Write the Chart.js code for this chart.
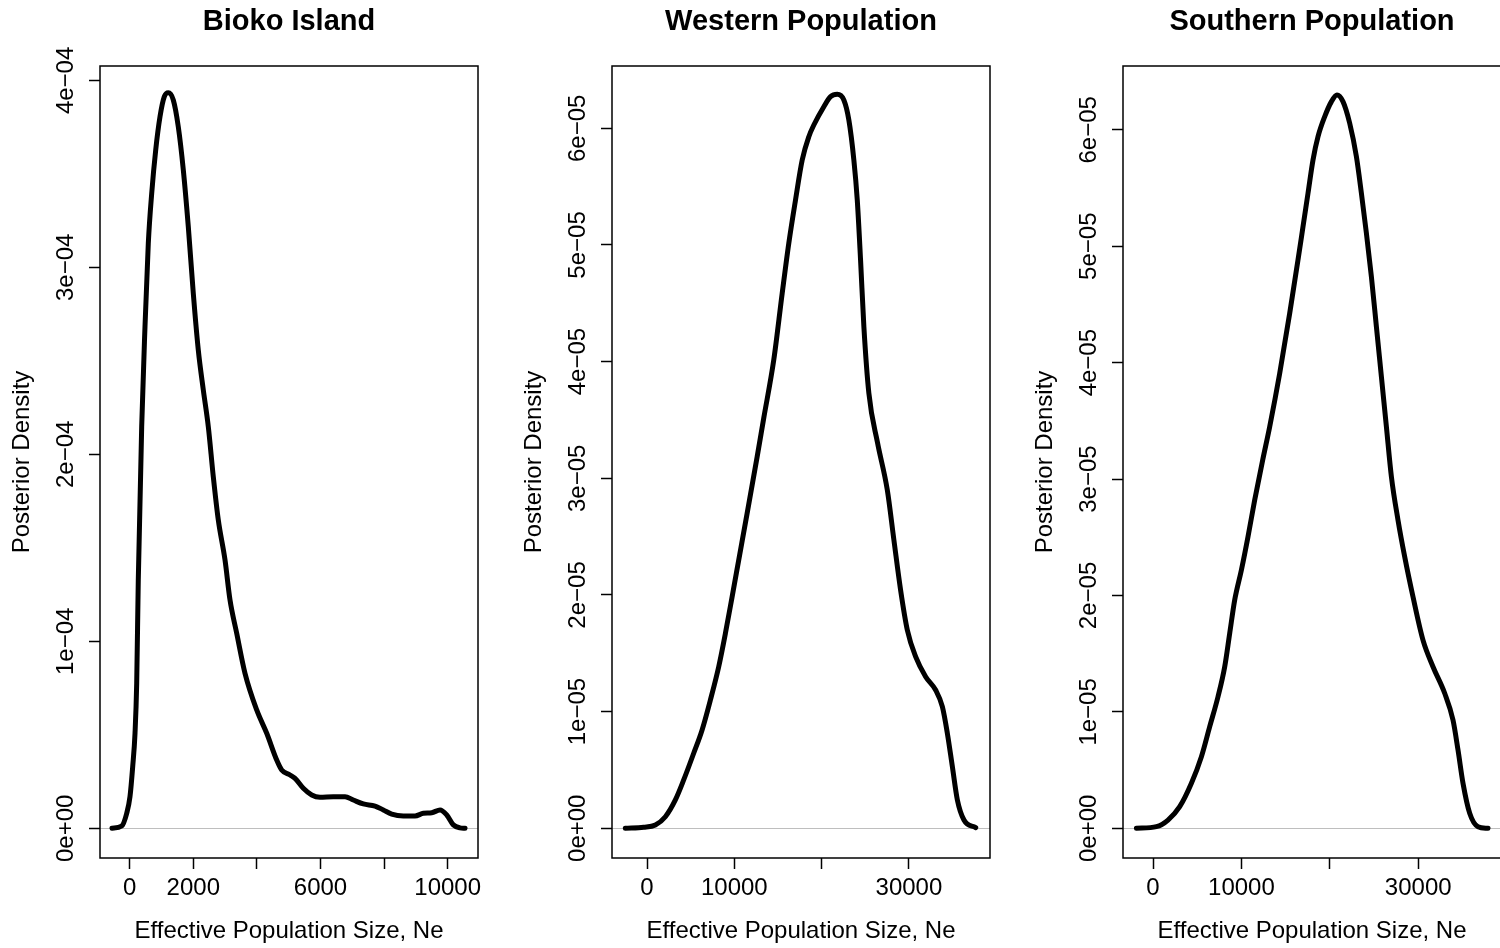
<!DOCTYPE html>
<html>
<head>
<meta charset="utf-8">
<title>Posterior density of effective population size</title>
<script src="https://cdn.jsdelivr.net/npm/chart.js@4.4.1/dist/chart.umd.min.js"></script>
<style>
	html, body { margin: 0; padding: 0; background: #fff; overflow: hidden; width: 1500px; height: 948px; }
	.panel { position: absolute; top: 0; width: 500px; height: 948px; }
	.panel canvas { display: block; }
</style>
</head>
<body>
<div class="panel" style="left:0px"><canvas id="ne-bioko" width="500" height="948"></canvas></div>
<div class="panel" style="left:512px"><canvas id="ne-western" width="500" height="948"></canvas></div>
<div class="panel" style="left:1023px"><canvas id="ne-southern" width="500" height="948"></canvas></div>
<script>
// Bioko Island
const biokoNe = [
	-557, -252, -94, 9, 94, 167, 220, 270, 377, 481, 585, 692, 818, 953, 1088,
	1214, 1371, 1528, 1686, 1843, 2000, 2157, 2315, 2472, 2629, 2786, 2997, 3154,
	3365, 3626, 3994, 4309, 4623, 4780, 5041, 5199, 5460, 5724, 5985, 6403, 6771,
	7032, 7347, 7715, 7976, 8240, 8605, 8973, 9234, 9498, 9759, 9970, 10178,
	10388, 10545,
];
const biokoDensity = [
	0, 1.2e-6, 8.0e-6, 1.69e-5, 3.29e-5, 5.08e-5, 7.75e-5, 1.328e-4, 2.148e-4,
	2.683e-4, 3.129e-4, 3.396e-4, 3.628e-4, 3.806e-4, 3.913e-4,
	3.934e-4, 3.895e-4, 3.752e-4, 3.521e-4, 3.217e-4, 2.861e-4, 2.558e-4,
	2.344e-4, 2.148e-4, 1.88e-4, 1.649e-4, 1.435e-4, 1.221e-4,
	1.043e-4, 8.29e-5, 6.33e-5, 5.08e-5, 3.65e-5, 3.12e-5, 2.85e-5, 2.67e-5,
	2.14e-5, 1.78e-5, 1.66e-5, 1.69e-5, 1.69e-5,
	1.51e-5, 1.3e-5, 1.19e-5, 9.8e-6, 7.6e-6, 6.6e-6, 6.6e-6, 8.0e-6, 8.3e-6,
	9.8e-6, 7.1e-6, 1.8e-6,
	2e-7, 0,
];
const biokoXLimits = [-934, 10953];
const biokoYLimits = [-1.59e-5, 4.077e-4];
const biokoXTicks = [0, 2000, 4000, 6000, 8000, 10000];
const biokoXTickLabels = ["0", "2000", "", "6000", "", "10000"];
const biokoYTicks = [0, 1e-4, 2e-4, 3e-4, 4e-4];
const biokoYTickLabels = ["0e+00", "1e\u221204", "2e\u221204", "3e\u221204", "4e\u221204"];

// Western Population
const westernNe = [
	-2489, -390, 952, 2099, 3245, 4197, 5344, 6307, 7259, 8211, 8979, 9748,
	10505, 11468, 12615, 13372, 14518, 15482, 16238, 17007, 17775, 18532, 19106,
	20253, 21021, 21789, 22546, 23120, 23693, 24083, 24461, 24840, 25413, 26411,
	27523, 28280, 29048, 29817, 30769, 31916, 33062, 33831, 34404, 34978, 35551,
	36308, 37650,
];
const westernDensity = [
	0, 8.6e-8, 2.8e-7, 9.9e-7, 2.43e-6, 4.14e-6, 6.43e-6, 8.43e-6, 1.1e-5,
	1.385e-5, 1.671e-5, 1.985e-5,
	2.3e-5, 2.7e-5, 3.185e-5, 3.517e-5, 4.014e-5, 4.585e-5, 5.014e-5, 5.385e-5,
	5.728e-5, 5.928e-5, 6.028e-5,
	6.185e-5, 6.271e-5, 6.291e-5, 6.242e-5, 6.071e-5, 5.728e-5, 5.385e-5,
	4.871e-5, 4.299e-5, 3.728e-5, 3.302e-5,
	2.9e-5, 2.471e-5, 2.042e-5, 1.7e-5, 1.471e-5, 1.299e-5, 1.185e-5, 1.042e-5,
	8.14e-6, 5.28e-6, 2.43e-6,
	7.1e-7, 5e-8,
];
const westernXLimits = [-4014, 39289];
const westernYLimits = [-2.55e-6, 6.534e-5];
const westernXTicks = [0, 10000, 20000, 30000];
const westernXTickLabels = ["0", "10000", "", "30000"];
const westernYTicks = [0, 1e-5, 2e-5, 3e-5, 4e-5, 5e-5, 6e-5];
const westernYTickLabels = ["0e+00", "1e\u221205", "2e\u221205", "3e\u221205", "4e\u221205", "5e\u221205", "6e\u221205"];

// Southern Population
const southernNe = [
	-1878, 385, 1697, 3020, 4344, 5475, 6414, 7353, 8111, 8676, 9242, 10000,
	10746, 11504, 12409, 13201, 14332, 15464, 16402, 16968, 17534, 18099, 18665,
	19423, 20181, 20814, 21493, 22251, 23009, 23574, 24140, 24705, 25271, 25837,
	26402, 26968, 27715, 28472, 29411, 30542, 31674, 32997, 33936, 34502, 35067,
	35825, 36764, 37895,
];
const southernDensity = [
	0, 1.4e-7, 7.1e-7, 1.86e-6, 3.87e-6, 6.15e-6, 8.73e-6, 1.13e-5, 1.388e-5,
	1.675e-5, 1.961e-5, 2.219e-5,
	2.505e-5, 2.82e-5, 3.164e-5, 3.45e-5, 3.908e-5, 4.424e-5, 4.882e-5, 5.168e-5,
	5.455e-5, 5.741e-5, 5.941e-5,
	6.113e-5, 6.242e-5, 6.299e-5, 6.242e-5, 6.056e-5, 5.769e-5, 5.455e-5,
	5.111e-5, 4.738e-5, 4.309e-5, 3.879e-5,
	3.45e-5, 3.02e-5, 2.648e-5, 2.333e-5, 1.989e-5, 1.617e-5, 1.388e-5, 1.16e-5,
	9.3e-6, 6.73e-6, 3.87e-6,
	1.29e-6, 1.4e-7, 0,
];
const southernXLimits = [-3394, 39366];
const southernYLimits = [-2.55e-6, 6.548e-5];
const southernXTicks = [0, 10000, 20000, 30000];
const southernXTickLabels = ["0", "10000", "", "30000"];
const southernYTicks = [0, 1e-5, 2e-5, 3e-5, 4e-5, 5e-5, 6e-5];
const southernYTickLabels = ["0e+00", "1e\u221205", "2e\u221205", "3e\u221205", "4e\u221205", "5e\u221205", "6e\u221205"];

Chart.defaults.font.family = "'Liberation Sans', Arial, Helvetica, sans-serif";
Chart.defaults.color = "#000";

// box round the plot region, like R's box()
const plotBox = {
	id: "plotBox",
	afterDraw(chart) {
		const { ctx, chartArea } = chart;
		ctx.save();
		ctx.strokeStyle = "#000";
		ctx.lineWidth = 1.5;
		ctx.strokeRect(
			chartArea.left,
			chartArea.top,
			chartArea.right - chartArea.left,
			chartArea.bottom - chartArea.top
		);
		ctx.restore();
	},
};

function buildChart(id, title, ne, density, xLimits, yLimits, xTicks, xLabels, yTicks, yLabels) {
	let ctx = document.getElementById(id).getContext("2d");

	return new Chart(ctx, {
		type: "line",
		data: {
			datasets: [
				{
					data: ne.map((x, i) => ({ x: x, y: density[i] })),
					borderColor: "#000",
					borderWidth: 5,
					borderCapStyle: "round",
					borderJoinStyle: "round",
					pointRadius: 0,
					fill: false,
					cubicInterpolationMode: "monotone",
				},
			],
		},
		options: {
			responsive: false,
			animation: false,
			devicePixelRatio: 1,
			events: [],
			layout: {
				padding: { left: 0, right: 22, top: 0, bottom: 0 },
			},
			scales: {
				x: {
					type: "linear",
					min: xLimits[0],
					max: xLimits[1],
					afterBuildTicks: (scale) => {
						scale.ticks = xTicks.map((v) => ({ value: v }));
					},
					afterFit: (scale) => {
						scale.height = 90;
					},
					border: { display: false },
					grid: {
						drawOnChartArea: false,
						drawTicks: true,
						tickLength: 11,
						tickWidth: 1.5,
						tickColor: "#000",
					},
					ticks: {
						autoSkip: false,
						minRotation: 0,
						maxRotation: 0,
						padding: 5,
						color: "#000",
						font: { size: 24 },
						callback: (value, idx) => xLabels[idx],
					},
					title: {
						display: true,
						text: "Effective Population Size, Ne",
						color: "#000",
						font: { size: 24 },
						padding: { top: 0, bottom: 2 },
					},
				},
				y: {
					type: "linear",
					min: yLimits[0],
					max: yLimits[1],
					afterBuildTicks: (scale) => {
						scale.ticks = yTicks.map((v) => ({ value: v }));
					},
					afterFit: (scale) => {
						scale.width = 100;
					},
					border: { display: false },
					grid: {
						drawOnChartArea: true,
						// only the zero line is drawn, in grey
						color: (c) => (c.tick && c.tick.value === 0 ? "#bebebe" : "rgba(0,0,0,0)"),
						lineWidth: 1,
						drawTicks: true,
						tickLength: 11,
						tickWidth: 1.5,
						tickColor: "#000",
					},
					ticks: {
						autoSkip: false,
						minRotation: 90,
						maxRotation: 90,
						crossAlign: "center",
						padding: -11,
						color: "#000",
						font: { size: 24 },
						callback: (value, idx) => yLabels[idx],
					},
					title: {
						display: true,
						text: "Posterior Density",
						color: "#000",
						font: { size: 24 },
						padding: { top: 8.3, bottom: 0 },
					},
				},
			},
			plugins: {
				legend: { display: false },
				tooltip: { enabled: false },
				title: {
					display: true,
					text: title,
					fullSize: false,
					color: "#000",
					font: { size: 29, weight: "bold" },
					padding: { top: 4.9, bottom: 26.3 },
				},
			},
		},
		plugins: [plotBox],
	});
}

buildChart("ne-bioko", "Bioko Island", biokoNe, biokoDensity, biokoXLimits, biokoYLimits,
	biokoXTicks, biokoXTickLabels, biokoYTicks, biokoYTickLabels);
buildChart("ne-western", "Western Population", westernNe, westernDensity, westernXLimits, westernYLimits,
	westernXTicks, westernXTickLabels, westernYTicks, westernYTickLabels);
buildChart("ne-southern", "Southern Population", southernNe, southernDensity, southernXLimits, southernYLimits,
	southernXTicks, southernXTickLabels, southernYTicks, southernYTickLabels);
</script>
</body>
</html>
